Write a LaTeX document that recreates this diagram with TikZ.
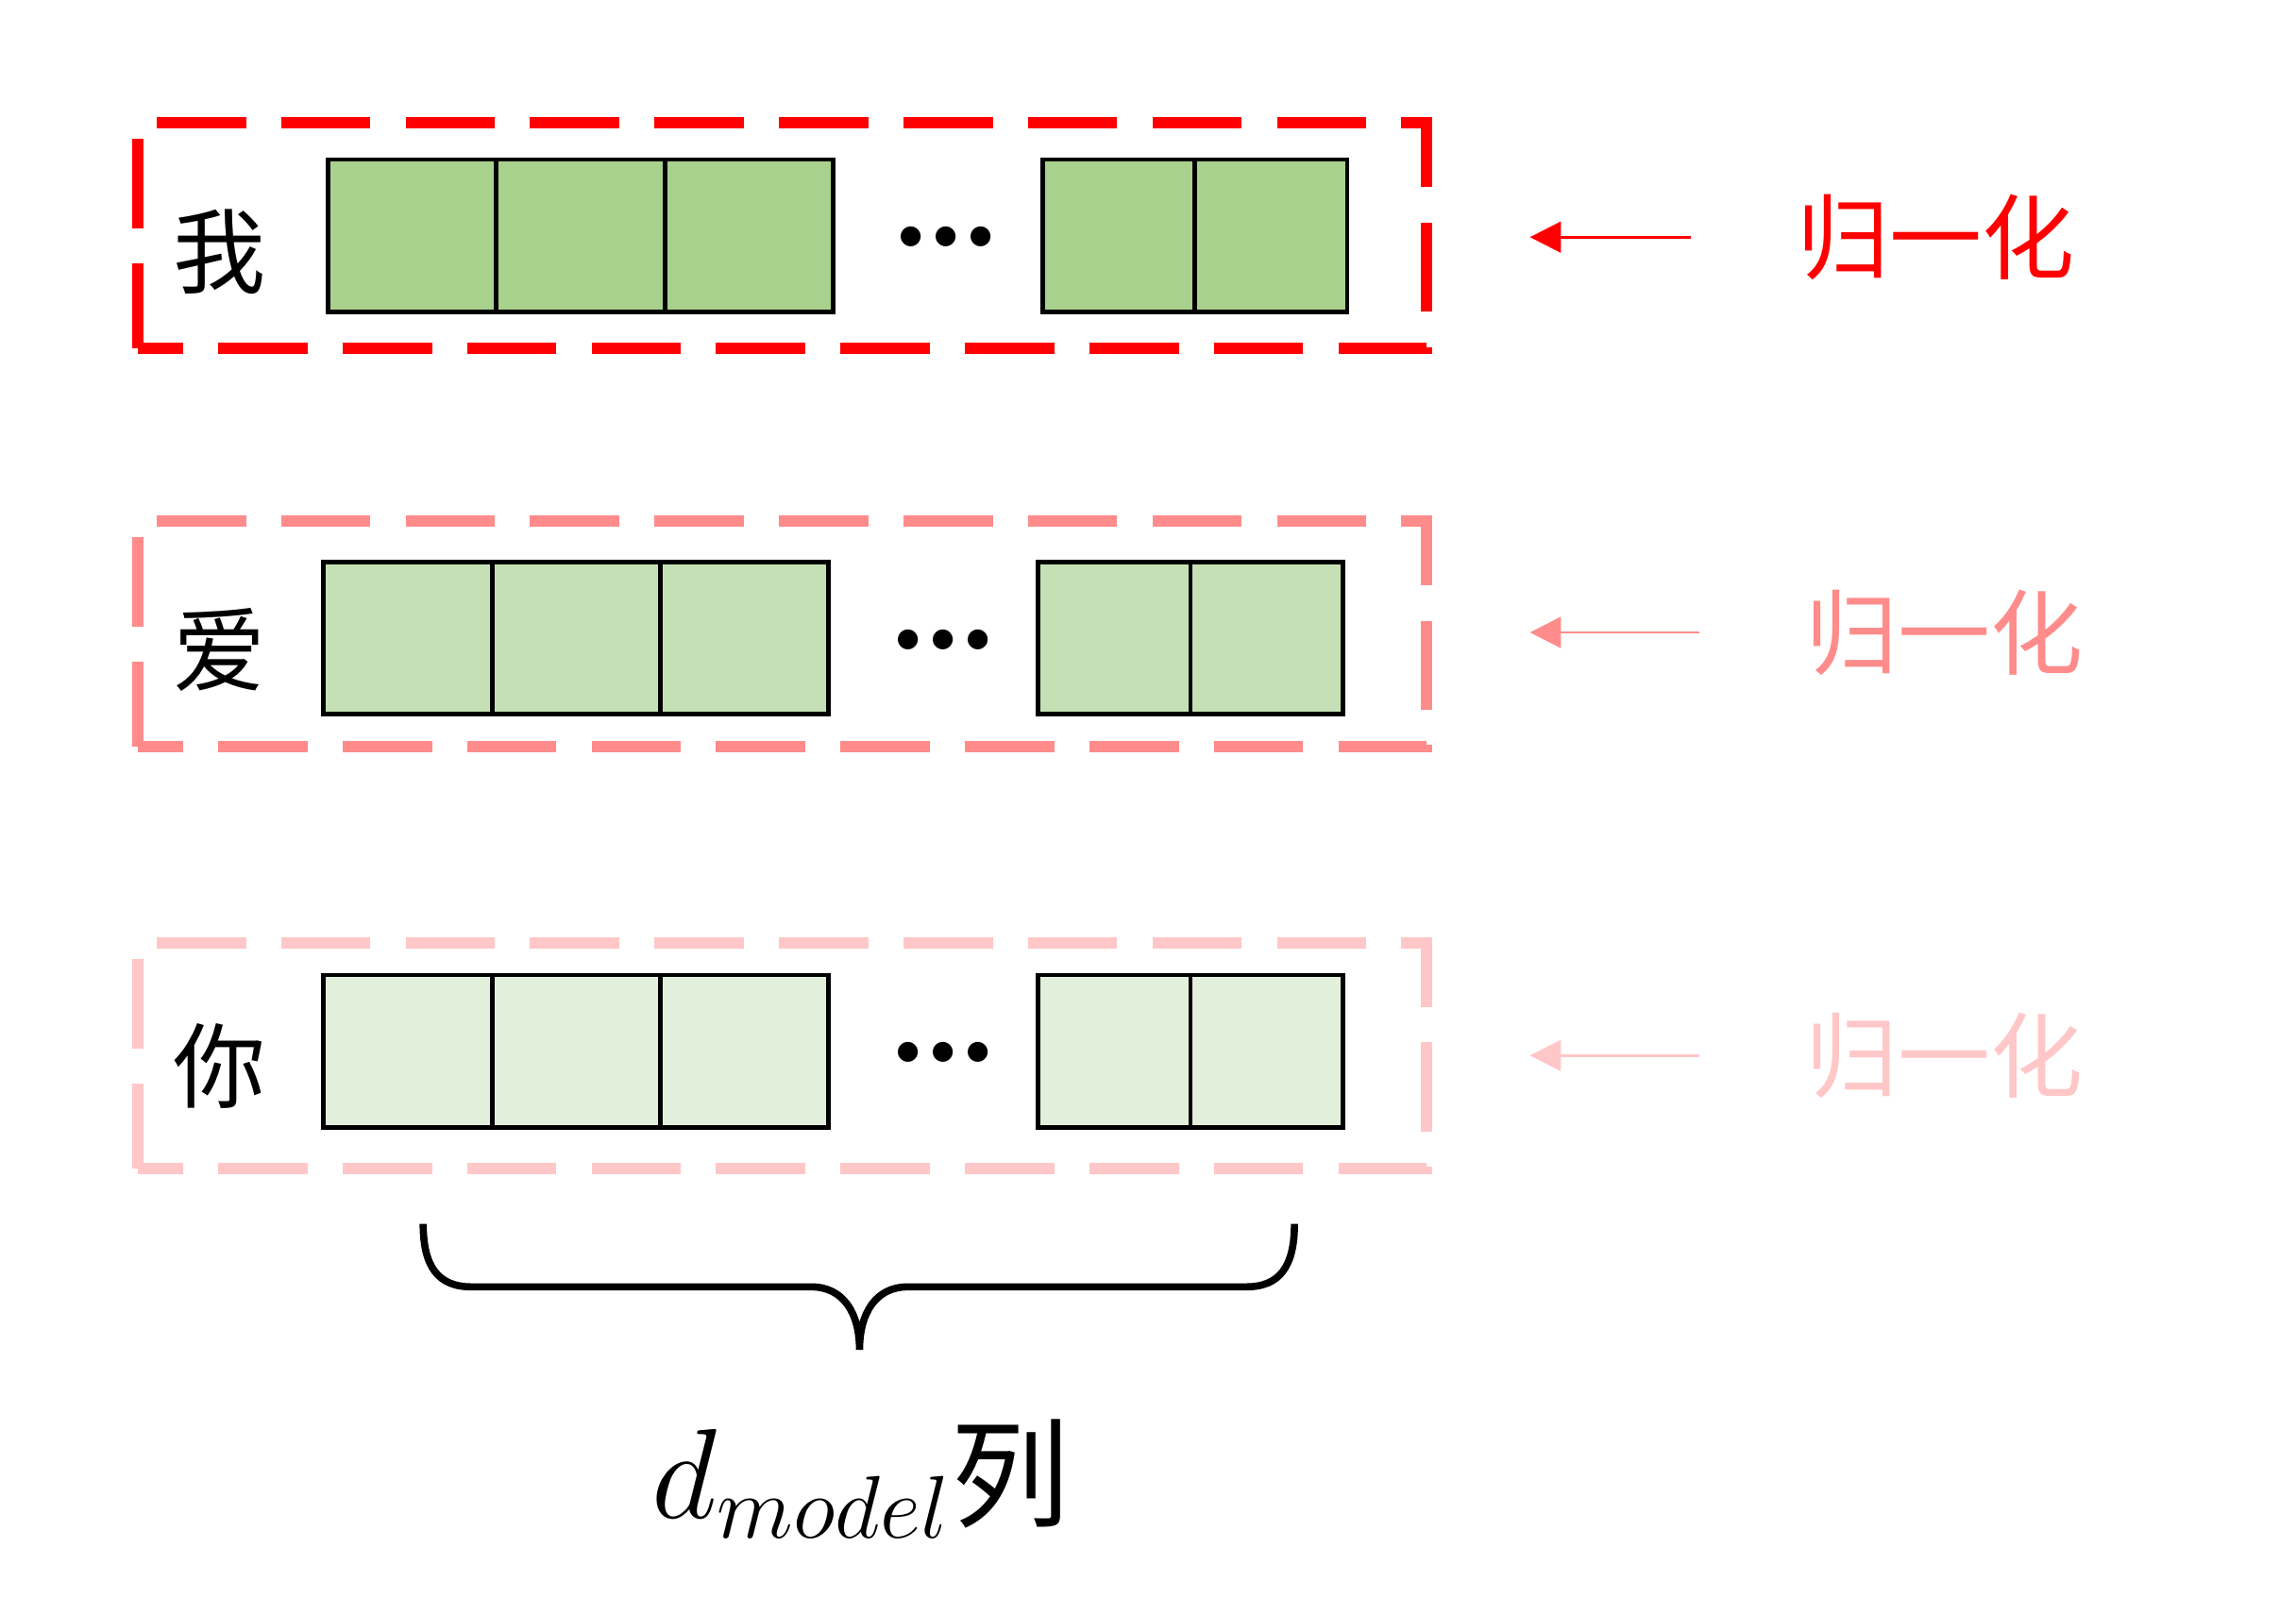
\documentclass[tikz,border=0pt]{standalone}
\usepackage{fontspec}
\newfontfamily\cjkfont{Noto Sans CJK SC}
\usepackage{xcolor}
\usepackage{tikz}
\usetikzlibrary{arrows.meta, positioning}
\definecolor{cellgreen}{RGB}{169,209,142}
\definecolor{cellmid}{RGB}{197,224,180}
\definecolor{celllight}{RGB}{226,239,218}
\definecolor{normred}{RGB}{255,0,0}
\definecolor{normmid}{RGB}{255,139,139}
\definecolor{normlight}{RGB}{255,199,199}
\tikzset{
  cell/.style={rectangle, draw=black, line width=0.9pt, outer sep=0pt,
    inner sep=0pt, minimum width=1.15cm, minimum height=1.04cm},
  sqcell/.style={cell, minimum width=1.04cm},
  rowbox/.style={rectangle, line width=2.2pt, dash pattern=on 0.61cm off 0.24cm,
    dash phase=0.3cm, minimum width=8.80cm, minimum height=1.54cm, inner sep=0pt},
  wordlabel/.style={font=\cjkfont\fontsize{18}{18}\selectfont, inner sep=0pt},
  normlabel/.style={font=\cjkfont\fontsize{18}{18}\selectfont, inner sep=0pt},
  dotslabel/.style={font=\fontsize{10}{10}\selectfont, inner sep=0pt},
  normarrow/.style={-{Triangle[length=6pt, width=6pt]}, line width=0.5pt,
    shorten >=0.67cm, shorten <=0.72cm},
  bracepath/.style={line width=1.4pt, black},
}
\newcommand{\rowdots}{${\bullet}\kern1.8pt{\bullet}\kern1.8pt{\bullet}$}

\begin{document}
\begin{tikzpicture}
  \useasboundingbox (0,0) rectangle (15.68,11.03);

  % row 1
  \node[rowbox, draw=normred] (box1) at (5.34,9.42) {};
  \node[wordlabel] (w1) at (1.50,9.31) {我};
  \node[cell, fill=cellgreen, anchor=west] (r1c1) at (2.24,9.42) {};
  \node[cell, fill=cellgreen, right=0pt of r1c1] (r1c2) {};
  \node[cell, fill=cellgreen, right=0pt of r1c2] (r1c3) {};
  \node[dotslabel] (r1dots) at (6.46,9.40) {\rowdots};
  \node[sqcell, fill=cellgreen, anchor=west] (r1c4) at (7.12,9.42) {};
  \node[sqcell, fill=cellgreen, right=0pt of r1c4] (r1c5) {};
  \node[normlabel, text=normred] (norm1) at (13.22,9.41) {归一化};
  \draw[normarrow, normred] (norm1.west) -- (norm1.west -| box1.east);

  % row 2
  \node[rowbox, draw=normmid] (box2) at (5.34,6.70) {};
  \node[wordlabel] (w2) at (1.50,6.59) {爱};
  \node[cell, fill=cellmid, anchor=west] (r2c1) at (2.21,6.67) {};
  \node[cell, fill=cellmid, right=0pt of r2c1] (r2c2) {};
  \node[cell, fill=cellmid, right=0pt of r2c2] (r2c3) {};
  \node[dotslabel] (r2dots) at (6.44,6.65) {\rowdots};
  \node[sqcell, fill=cellmid, anchor=west] (r2c4) at (7.09,6.67) {};
  \node[sqcell, fill=cellmid, right=0pt of r2c4] (r2c5) {};
  \node[normlabel, text=normmid] (norm2) at (13.28,6.71) {归一化};
  \draw[normarrow, normmid] (norm2.west) -- (norm2.west -| box2.east);

  % row 3
  \node[rowbox, draw=normlight] (box3) at (5.34,3.82) {};
  \node[wordlabel] (w3) at (1.50,3.75) {你};
  \node[cell, fill=celllight, anchor=west] (r3c1) at (2.21,3.85) {};
  \node[cell, fill=celllight, right=0pt of r3c1] (r3c2) {};
  \node[cell, fill=celllight, right=0pt of r3c2] (r3c3) {};
  \node[dotslabel] (r3dots) at (6.44,3.83) {\rowdots};
  \node[sqcell, fill=celllight, anchor=west] (r3c4) at (7.09,3.85) {};
  \node[sqcell, fill=celllight, right=0pt of r3c4] (r3c5) {};
  \node[normlabel, text=normlight] (norm3) at (13.28,3.82) {归一化};
  \draw[normarrow, normlight] (norm3.west) -- (norm3.west -| box3.east);

  % brace under the columns
  \draw[bracepath] (2.89,2.67) .. controls (2.89,2.38) and (2.99,2.24) .. (3.22,2.24)
    -- (5.54,2.24) .. controls (5.76,2.24) and (5.87,2.06) .. (5.87,1.81)
    .. controls (5.87,2.06) and (5.98,2.24) .. (6.20,2.24)
    -- (8.51,2.24) .. controls (8.74,2.24) and (8.84,2.38) .. (8.84,2.67);
  \node[font=\fontsize{23}{23}\selectfont, inner sep=0pt] (dmodel) at (5.88,0.93)
    {$d_{model}$\cjkfont 列};
\end{tikzpicture}
\end{document}
